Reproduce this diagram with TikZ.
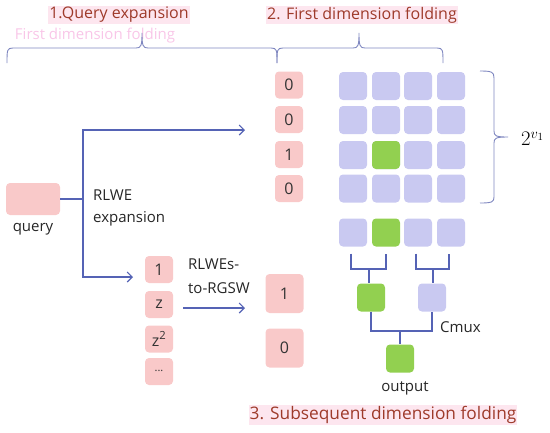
\documentclass[tikz,border=0pt]{standalone}
\usepackage{fontspec}
\setmainfont{Open Sans}
\usetikzlibrary{arrows.meta,calc}
\definecolor{pinkbox}{HTML}{F9C9C9}
\definecolor{lav}{HTML}{C9C9F1}
\definecolor{grn}{HTML}{92D050}
\definecolor{lineblue}{HTML}{5563B5}
\definecolor{bracecol}{HTML}{7F87C0}
\definecolor{titlered}{HTML}{9E3A2A}
\definecolor{hl}{HTML}{FDE6EF}
\definecolor{ghost}{HTML}{F4A0D8}
\begin{document}
\begin{tikzpicture}[x=1pt,y=-1pt,
 cell/.style={rounded corners=4pt, minimum width=28pt, minimum height=28pt, inner sep=0pt},
 lavcell/.style={cell, fill=lav},
 grncell/.style={cell, fill=grn},
 pbox/.style={rounded corners=4pt, fill=pinkbox, minimum width=28pt, minimum height=27pt, inner sep=0pt, font=\fontsize{16}{16}\selectfont, text=black!80},
 lbl/.style={font=\fontsize{15}{18}\selectfont, text=black!85, inner sep=0pt},
 title/.style={font=\fontsize{16}{19}\selectfont, text=titlered, fill=hl, inner sep=1pt},
 conn/.style={draw=lineblue, line width=1.1pt},
 arr/.style={conn, -{Straight Barb[length=5pt,width=10pt]}},
 brc/.style={draw=bracecol, line width=0.9pt}
]
\useasboundingbox (0,0) rectangle (550,432);
% ghost text
\node[font=\fontsize{15}{18}\selectfont, text=ghost, opacity=0.6, inner sep=0pt] (ghost) at (95,36) {First dimension folding};
% titles
\node[title] (t1) at (119,15) {1.Query expansion};
\node[title] (t2) at (362,15) {2. First dimension folding};
\node[title, font=\fontsize{17.3}{20}\selectfont] (t3) at (383,415) {3. Subsequent dimension folding};
% braces
\draw[brc] (7,63) .. controls (7,50) and (7,48) .. (13,48) -- (136,48) .. controls (141,48) and (142,46) .. (142,33) .. controls (142,46) and (143,48) .. (148,48) -- (271,48) .. controls (277,48) and (277,50) .. (277,63);
\draw[brc] (277,63) .. controls (277,50) and (277,48) .. (283,48) -- (353,48) .. controls (358,48) and (359,46) .. (359,33) .. controls (359,46) and (360,48) .. (365,48) -- (437,48) .. controls (443,48) and (443,50) .. (443,63);
\draw[brc] (480,71) .. controls (492,71) and (494,72) .. (494,78) -- (494,131) .. controls (494,136) and (496,137) .. (508,137) .. controls (496,137) and (494,138) .. (494,143) -- (494,197) .. controls (494,202) and (492,203) .. (480,203);
\node[anchor=west, inner sep=0pt, font=\fontsize{22}{22}\selectfont] (dim) at (521,139) {$2^{v_1}$};
% query
\node[rounded corners=4pt, fill=pinkbox, minimum width=54pt, minimum height=32pt, inner sep=0pt] (query) at (33,199) {};
\node[lbl] (qlbl) at (33,229) {query};
\coordinate (split) at (83,199);
\coordinate (topend) at (245,130);
\coordinate (botend) at (133,277);
\draw[conn] (query.east) -- (split);
\draw[arr] (split) |- (topend);
\draw[arr] (split) |- (botend);
\node[lbl, anchor=west] (rl1) at (93,195) {RLWE};
\node[lbl, anchor=west] (rl2) at (93,219) {expansion};
% 0 0 1 0 column
\node[pbox] (s1) at (289,85) {0};
\node[pbox] (s2) at (289,119.5) {0};
\node[pbox] (s3) at (289,154.5) {1};
\node[pbox] (s4) at (289,188.5) {0};
% grid
\foreach \r/\y in {1/86,2/120,3/155,4/188.5}{
  \foreach \c/\x in {1/353,2/386,3/418,4/451}{
    \node[lavcell] (g\r\c) at (\x,\y) {};
  }
}
\node[grncell] (g32x) at (g32) {};
% bottom row
\node[lavcell] (b1) at (353,232.5) {};
\node[grncell] (b2) at (386,232.5) {};
\node[lavcell] (b3) at (418,232.5) {};
\node[lavcell] (b4) at (451,232.5) {};
% second level
\node[grncell] (m1) at (371,297.5) {};
\node[lavcell] (m2) at (432,297.5) {};
\node[grncell] (out) at (400,358.5) {};
\node[lbl] (outlbl) at (405,388) {output};
\node[lbl, anchor=west] (cmux) at (440,327) {Cmux};
% brackets
\coordinate (j1) at (369,269);
\coordinate (j2) at (433,269);
\draw[conn] ($(b1.south)+(-2,7)$) |- (j1) -| ($(b2.south)+(0,7)$);
\draw[conn] (j1) -- (j1 |- m1.north);
\draw[conn] ($(b3.south)+(-2,7)$) |- (j2) -| ($(b4.south)+(-2,7)$);
\draw[conn] (j2) -- (j2 |- m2.north);
\coordinate (j3) at (400,331);
\draw[conn] (m1.south) |- (j3) -| (m2.south);
\draw[conn] (j3) -- (out.north);
% z column
\node[pbox] (z1) at (159,269.5) {1};
\node[pbox] (z2) at (159,304.5) {z};
\node[pbox] (z3) at (159,339) {z\textsuperscript{2}};
\node[pbox] (z4) at (159,371.5) {\fontsize{11}{11}\selectfont\raisebox{2pt}{...}};
\node[lbl, anchor=west] (rg1) at (188,264) {RLWEs-};
\node[lbl, anchor=west] (rg2) at (188,288) {to-RGSW};
\coordinate (rgs) at (183,308);
\coordinate (rge) at (245,308);
\draw[arr] (rgs) -- (rge);
% RGSW boxes
\node[pbox, minimum width=38pt, minimum height=39pt] (r1) at (284.5,293.5) {1};
\node[pbox, minimum width=38pt, minimum height=39pt] (r0) at (284.5,348) {0};
\end{tikzpicture}
\end{document}
